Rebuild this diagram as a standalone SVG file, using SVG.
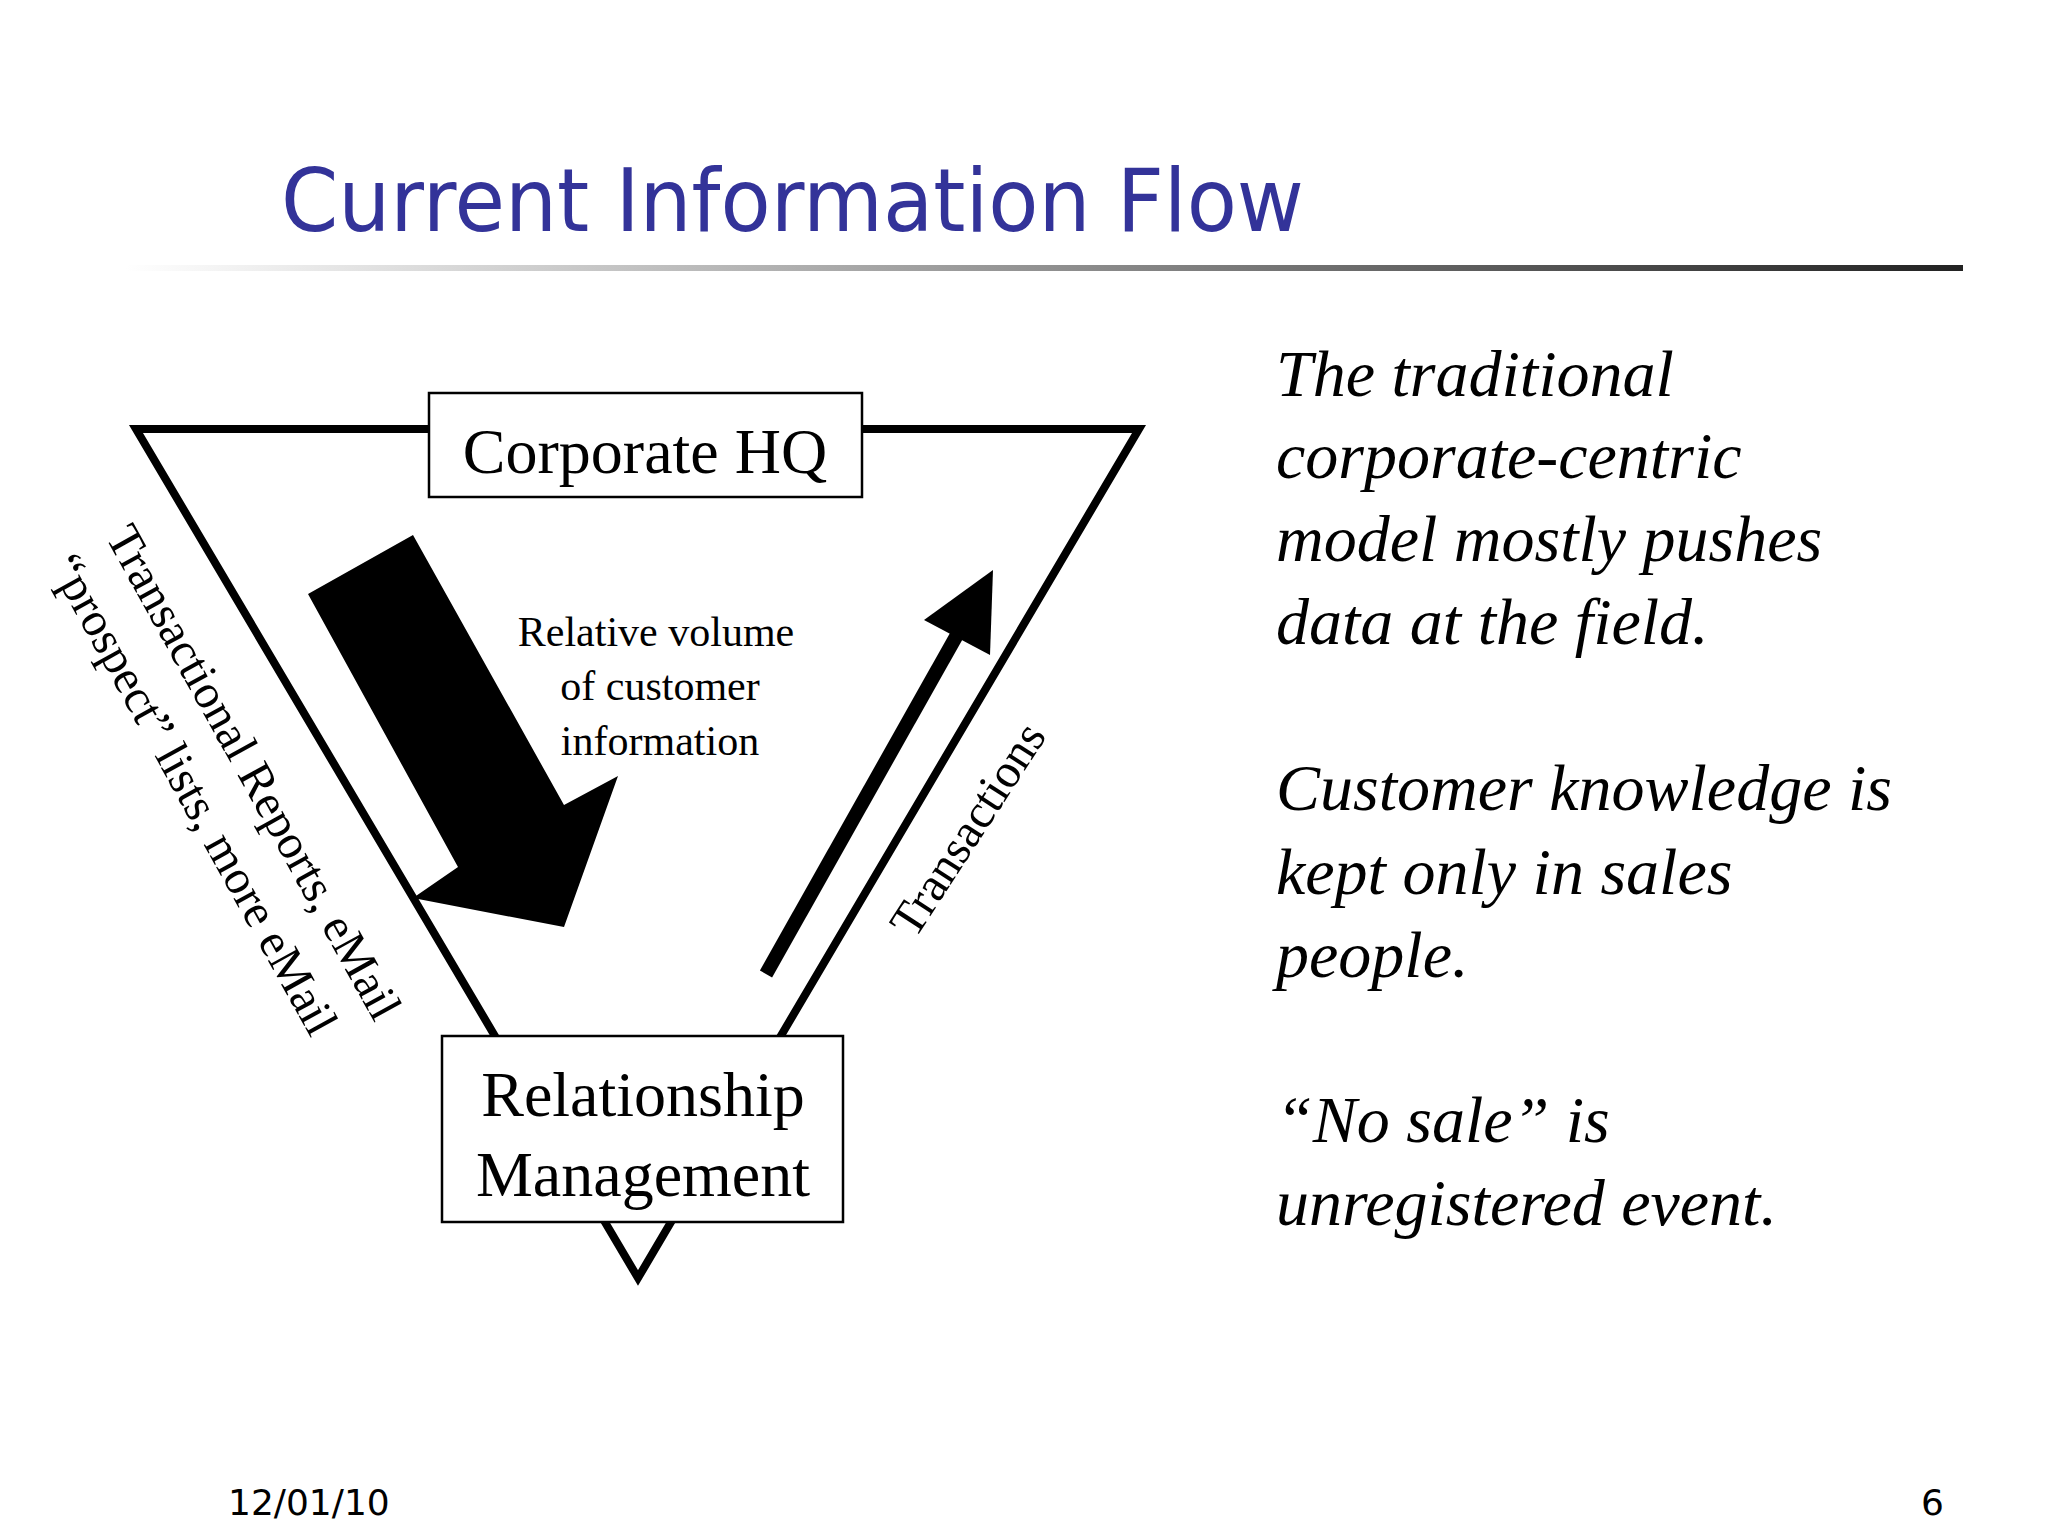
<svg xmlns="http://www.w3.org/2000/svg" width="2048" height="1536" viewBox="0 0 2048 1536">
<style>
.s{font-family:"Liberation Serif","Times New Roman",serif;fill:#000}
.i{font-family:"Liberation Serif","Times New Roman",serif;font-style:italic;font-size:66px;fill:#000}
.f{font-family:"DejaVu Sans","Verdana",sans-serif;font-size:36px;fill:#000}
.box{fill:#fff;stroke:#000;stroke-width:2.5}
</style>
<defs>
<linearGradient id="g" x1="0" x2="1" y1="0" y2="0">
<stop offset="0" stop-color="#fff"/><stop offset="1" stop-color="#222"/>
</linearGradient>
</defs>
<rect width="2048" height="1536" fill="#fff"/>
<text x="281" y="231" font-family="'DejaVu Sans',Verdana,sans-serif" font-size="88" fill="#333399" textLength="1023" lengthAdjust="spacingAndGlyphs">Current Information Flow</text>
<rect x="125" y="265" width="1838" height="6" fill="url(#g)"/>
<g id="connectors">
<polygon points="136,429 1139,429 638,1278" fill="none" stroke="#000" stroke-width="8"/>
<polygon id="bigarrow" points="308,594 413,535 564,805 618,776 564,927 413,898 458,867" fill="#000"/>
<line x1="766" y1="974" x2="962" y2="626" stroke="#000" stroke-width="14"/>
<polygon points="993,570 924,620 990,655" fill="#000"/>
</g>
<g id="hq"><rect class="box" x="429" y="393" width="433" height="104"/>
<text class="s" x="645" y="473" font-size="64" text-anchor="middle">Corporate HQ</text></g>
<g id="rm"><rect class="box" x="442" y="1036" width="401" height="186"/>
<text class="s" x="643" y="1116" font-size="64" text-anchor="middle">Relationship</text>
<text class="s" x="643" y="1196" font-size="64" text-anchor="middle">Management</text></g>
<g id="labels">
<text class="s" font-size="42" text-anchor="middle"><tspan x="656" y="646">Relative volume</tspan><tspan x="660" y="700">of customer</tspan><tspan x="660" y="755">information</tspan></text>
<text class="s" font-size="48" text-anchor="middle" transform="translate(981,838) rotate(-57)">Transactions</text>
<text class="s" font-size="48" text-anchor="middle" transform="translate(240,780) rotate(61)">Transactional Reports, eMail</text>
<text class="s" font-size="48" text-anchor="middle" transform="translate(180,802) rotate(61)">“prospect” lists, more eMail</text>
</g>
<g id="notes">
<text class="i" x="1276" y="396">The traditional</text>
<text class="i" x="1276" y="478">corporate-centric</text>
<text class="i" x="1276" y="561">model mostly pushes</text>
<text class="i" x="1276" y="644">data at the field.</text>
<text class="i" x="1276" y="810">Customer knowledge is</text>
<text class="i" x="1276" y="894">kept only in sales</text>
<text class="i" x="1276" y="977">people.</text>
<text class="i" x="1276" y="1142">“No sale” is</text>
<text class="i" x="1276" y="1225">unregistered event.</text>
</g>
<text class="f" x="228" y="1515">12/01/10</text>
<text class="f" x="1944" y="1515" text-anchor="end">6</text>
</svg>
